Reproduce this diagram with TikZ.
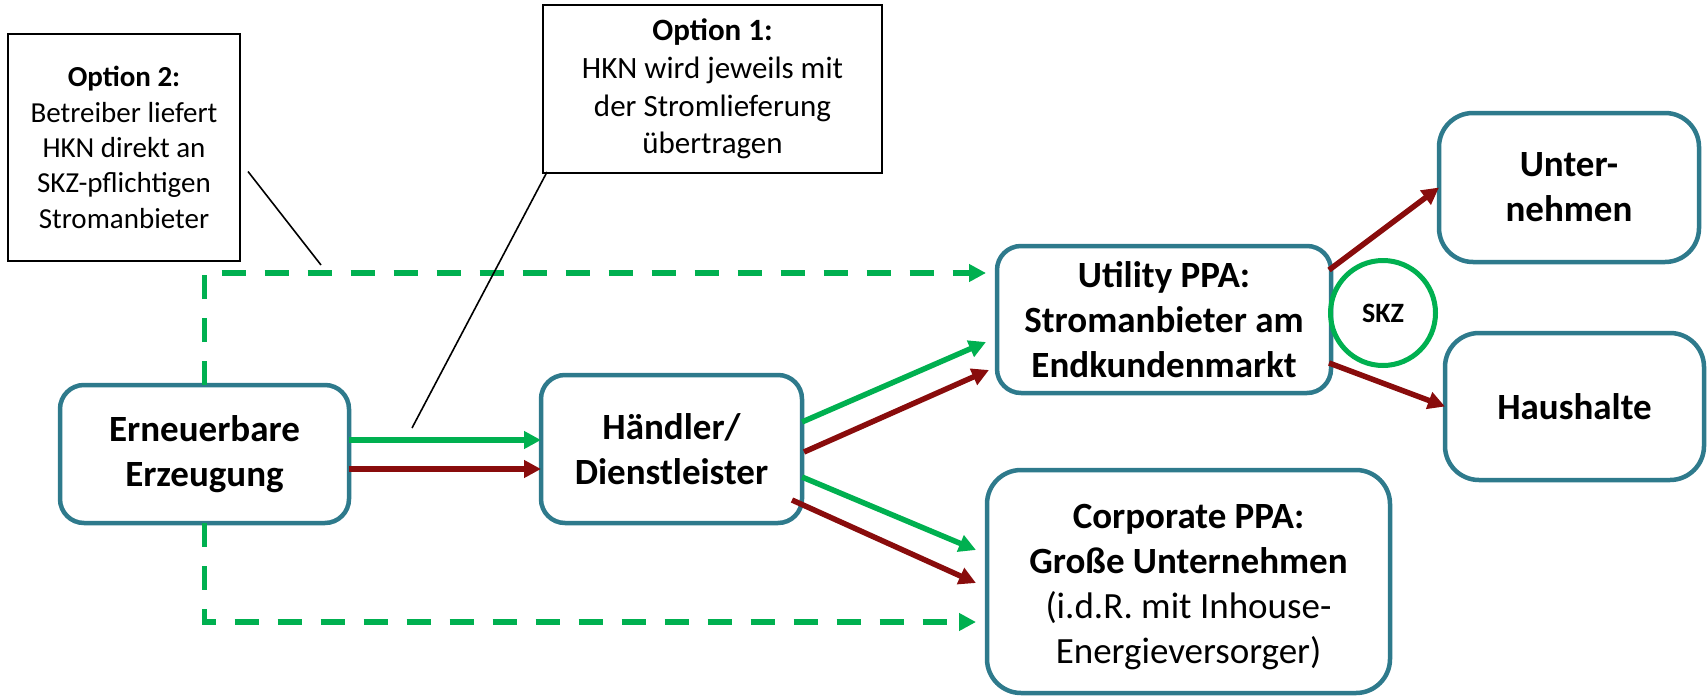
\documentclass[tikz,border=0pt]{standalone}
\usepackage{fontspec}
\setmainfont{Carlito}
\usetikzlibrary{arrows.meta,calc}
\definecolor{boxteal}{RGB}{46,122,140}
\definecolor{flowgreen}{RGB}{0,176,80}
\definecolor{flowred}{RGB}{137,12,12}

\begin{document}
\begin{tikzpicture}[x=1pt,y=-1pt,
  every node/.style={inner sep=0pt, outer sep=0pt},
  actor/.style={draw=boxteal, line width=4.5pt, rounded corners=24pt, fill=white,
    align=center, font=\fontsize{37}{45}\selectfont\bfseries},
  bigactor/.style={actor, rounded corners=34pt},
  note/.style={draw=black, line width=1.8pt, fill=white, align=center},
  tip/.style={-{Triangle[length=17pt,width=17pt]}},
  gflow/.style={tip, draw=flowgreen, line width=5.5pt},
  rflow/.style={tip, draw=flowred, line width=5.5pt},
  gdash/.style={tip, draw=flowgreen, line width=5.5pt, dash pattern=on 24pt off 19pt},
  callout/.style={draw=black, line width=1.6pt},
  skzring/.style={circle, draw=flowgreen, line width=5pt, minimum size=105pt,
    font=\fontsize{28}{33}\selectfont\bfseries}
]
\useasboundingbox (0,0) rectangle (1707,696);

% explanatory notes
\node[note, minimum width=232pt, minimum height=227pt,
  font=\fontsize{29}{35.4}\selectfont] (opt2) at (124,147.5)
  {\textbf{Option 2:}\\Betreiber liefert\\HKN direkt an\\SKZ-pflichtigen\\Stromanbieter};
\node[note, minimum width=339pt, minimum height=168pt,
  font=\fontsize{31}{37.8}\selectfont] (opt1) at (712.5,89)
  {\textbf{Option 1:}\\HKN wird jeweils mit\\der Stromlieferung\\übertragen};

% market participants
\node[actor, minimum width=289pt, minimum height=138pt] (ern) at (204.5,454)
  {Erneuerbare\\Erzeugung};
\node[actor, minimum width=261pt, minimum height=148pt] (hand) at (671.5,449)
  {Händler/\\Dienstleister};
\node[actor, minimum width=334pt, minimum height=147pt] (util) at (1164,319.5)
  {Utility PPA:\\Stromanbieter am\\Endkundenmarkt};
\node[bigactor, minimum width=403pt, minimum height=223pt] (corp) at (1188.5,581.5)
  {\rule{0pt}{36pt}Corporate PPA:\\Große Unternehmen\\\mdseries(i.d.R. mit Inhouse-\\\mdseries Energieversorger)};
\node[bigactor, minimum width=260pt, minimum height=149pt] (unt) at (1569,187.5)
  {Unter-\\nehmen};
\node[bigactor, minimum width=259pt, minimum height=147pt] (haus) at (1574.5,406.5)
  {Haushalte};
\node[skzring] (skz) at (1383,313) {SKZ};

% direct certificate transfer (option 2)
\draw[gdash] (ern.north) |- ($(util.west)+(-11,-46.5)$);
\draw[gdash] (ern.south) |- ($(corp.west)+(-11,40.5)$);

% power and certificate flows
\draw[gflow] ($(ern.east)+(0,-14)$) -- ($(hand.west)+(0,-9)$);
\draw[rflow] ($(ern.east)+(0,15)$) -- ($(hand.west)+(0,20)$);
\draw[gflow] ($(hand.east)+(0,-27)$) -- ($(util.west)+(-11,22.5)$);
\draw[rflow] ($(hand.east)+(2,3)$) -- ($(util.west)+(-8,50.5)$);
\draw[gflow] ($(hand.east)+(0,28)$) -- ($(corp.west)+(-11,-31.5)$);
\draw[rflow] ($(hand.east)+(-10,51)$) -- ($(corp.west)+(-11,1.5)$);
\draw[rflow] ($(util.east)+(-2,-49.5)$) -- (unt.west);
\draw[rflow] ($(util.east)+(-2,43.5)$) -- (haus.west);

% callout pointers
\coordinate (c2) at (321,265);
\coordinate (c1) at (412,428);
\draw[callout] ($(opt2.east)+(8,24)$) -- (c2);
\draw[callout] ($(opt1.south west)+(4,-1)$) -- (c1);
\end{tikzpicture}
\end{document}
